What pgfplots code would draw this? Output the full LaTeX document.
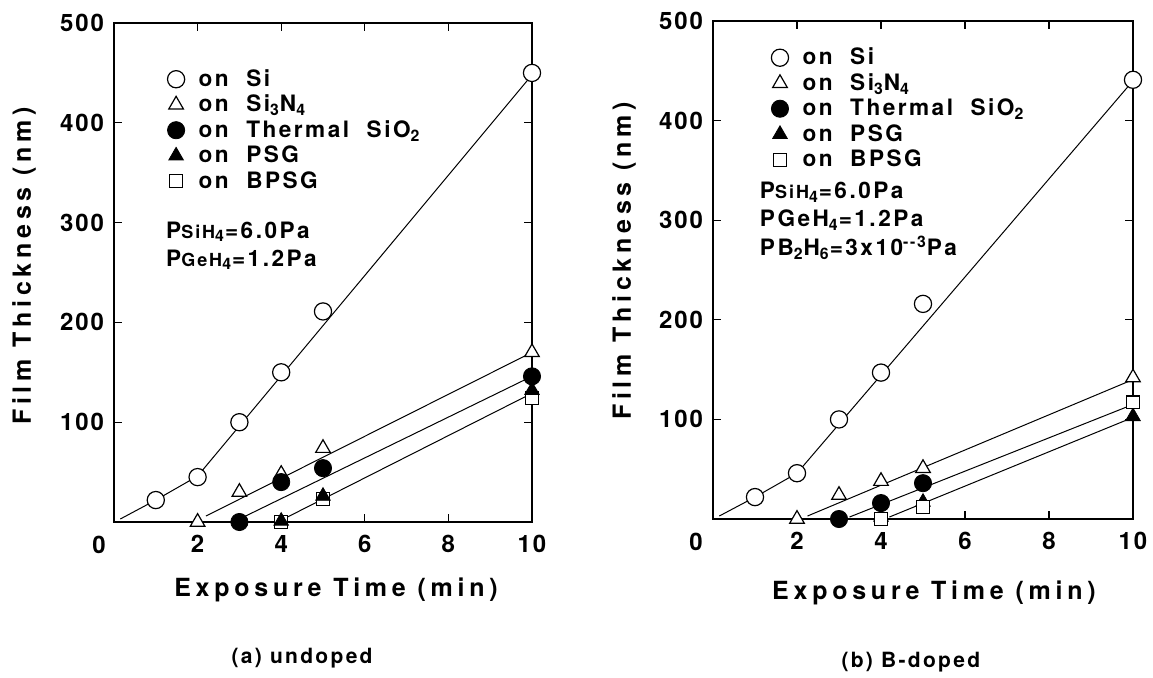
\documentclass[border=0pt]{standalone}
\usepackage{fontspec}
\setmainfont{TeX Gyre Heros}[LetterSpace=8]
\newfontfamily\labfont{TeX Gyre Heros}[LetterSpace=19]
\newfontfamily\legfont{TeX Gyre Heros}[LetterSpace=11]
\usepackage{pgfplots}
\pgfplotsset{compat=1.18}

\pgfplotstableread{
x y
1 22
2 45
3 100
4 150
5 211
10 450
}\aSi
\pgfplotstableread{
x y
2 0
3 30
4 48
5 74
10 170
}\aSiN
\pgfplotstableread{
x y
3 0
4 40
5 54
10 146
}\aSiO
\pgfplotstableread{
x y
4 1
5 26
10 132
}\aPSG
\pgfplotstableread{
x y
4 0
5 23
10 124
}\aBPSG

\pgfplotstableread{
x y
1 22
2 46
3 100
4 147
5 216
10 441
}\bSi
\pgfplotstableread{
x y
2 0
3 24
4 38
5 51
10 142
}\bSiN
\pgfplotstableread{
x y
3 0
4 16
5 36
}\bSiO
\pgfplotstableread{
x y
4 2
5 17
10 103
}\bPSG
\pgfplotstableread{
x y
4 0
5 12
10 117
}\bBPSG

\newcommand{\legsize}{\legfont\fontsize{11.3}{13}\selectfont\bfseries}
\newcommand{\labsize}{\labfont\fontsize{12.5}{14}\selectfont\bfseries}

\pgfplotsset{
  panel/.style={
    scale only axis,
    xmin=0, xmax=10, ymin=0, ymax=500,
    xtick={2,4,6,8,10}, ytick={100,200,300,400,500},
    tick align=inside, major tick length=4pt,
    axis line style={line width=0.7pt},
    every tick/.style={black, line width=0.6pt},
    tick label style={font=\fontsize{12}{14}\selectfont\bfseries},
    /pgf/number format/assume math mode=true,
    label style={font=\labsize},
    xticklabel shift=3pt, yticklabel shift=1.5pt,
    legend style={draw=none, fill=none, inner sep=0pt, outer sep=0pt,
      font=\legsize,
      row sep=2.75pt, column sep=7pt,
      nodes={inner sep=0pt, text height=8pt, text depth=2pt}},
    legend cell align=left,
    legend image code/.code={\draw[#1] plot coordinates {(0pt,0.6pt)};},
  },
  fitline/.style={black, line width=0.5pt, no marks, forget plot},
  oSi/.style={only marks, mark=*, mark size=4.3pt, mark options={fill=white, draw=black, line width=0.6pt}},
  oSiN/.style={only marks, mark=triangle*, mark size=4.2pt, mark options={fill=white, draw=black, line width=0.6pt}},
  oSiO/.style={only marks, mark=*, mark size=4.3pt, mark options={fill=black, draw=black}},
  oPSG/.style={only marks, mark=triangle*, mark size=4.2pt, mark options={fill=black, draw=black}},
  oBPSG/.style={only marks, mark=square*, mark size=3.2pt, mark options={fill=white, draw=black, line width=0.6pt}},
}

\begin{document}
\begin{tikzpicture}
\path[use as bounding box] (0pt,0pt) rectangle (576.5pt,-338.5pt);

% ---------------- (a) undoped ----------------
\begin{axis}[panel, at={(57pt,-261pt)}, anchor=south west,
  width=209pt, height=249.5pt,
  xlabel={Exposure Time (min)}, ylabel={Film Thickness (nm)},
  xlabel style={at={(axis description cs:0.531,-0.136)}, anchor=center},
  ylabel style={at={(axis description cs:-0.215,0.513)}, anchor=center},
  legend style={at={(axis description cs:0.128,0.905)}, anchor=north west},
  clip=false]
\addplot[fitline] coordinates {(0.15,3) (1,22) (2,46) (10,448)};
\addplot[fitline] coordinates {(2.2,6) (10,170)};
\addplot[fitline] coordinates {(3.1,5) (10,146)};
\addplot[fitline] coordinates {(4.15,5) (10,129)};
\addplot[oSi] table {\aSi};
\addlegendentry{on\ \ Si}
\addplot[oSiN] table {\aSiN};
\addlegendentry{on\ \ Si\textsubscript{3}N\textsubscript{4}}
\addplot[oSiO] table {\aSiO};
\addlegendentry{on\ \ Thermal\ \ SiO\textsubscript{2}}
\addplot[oBPSG, forget plot] table {\aBPSG};
\addplot[oPSG] table {\aPSG};
\addlegendentry{on\ \ PSG}
\addlegendimage{oBPSG}
\addlegendentry{on\ \ BPSG}
\node[anchor=base west, font=\legsize] at (axis cs:1.08,284.5)
  {P{\fontsize{9}{10}\selectfont SiH}\textsubscript{4}=6.0Pa};
\node[anchor=base west, font=\legsize] at (axis cs:1.08,256.5)
  {P{\fontsize{9}{10}\selectfont GeH}\textsubscript{4}=1.2Pa};
\node[font=\fontsize{12}{14}\selectfont\bfseries] at (axis cs:0,0) [xshift=-7.5pt, yshift=-11.5pt] {0};
\node[font=\legfont\fontsize{10.5}{12}\selectfont\bfseries] at (axis description cs:0.45,-0.273) {(a)\ undoped};
\end{axis}

% ---------------- (b) B-doped ----------------
\begin{axis}[panel, at={(356.5pt,-259.5pt)}, anchor=south west,
  width=210pt, height=249pt,
  xlabel={Exposure Time (min)}, ylabel={Film Thickness (nm)},
  xlabel style={at={(axis description cs:0.526,-0.149)}, anchor=center},
  ylabel style={at={(axis description cs:-0.212,0.518)}, anchor=center},
  legend style={at={(axis description cs:0.139,0.944)}, anchor=north west},
  clip=false]
\addplot[fitline] coordinates {(0.15,3) (1,22) (2,46) (10,440)};
\addplot[fitline] coordinates {(2.25,3) (10,140)};
\addplot[fitline] coordinates {(3.25,2) (10,115)};
\addplot[fitline] coordinates {(4.2,2) (10,102)};
\addplot[oSi] table {\bSi};
\addlegendentry{on\ \ Si}
\addplot[oSiN] table {\bSiN};
\addlegendentry{on\ \ Si\textsubscript{3}N\textsubscript{4}}
\addplot[oSiO] table {\bSiO};
\addlegendentry{on\ \ Thermal\ \ SiO\textsubscript{2}}
\addplot[oPSG] table {\bPSG};
\addlegendentry{on\ \ PSG}
\addplot[oBPSG] table {\bBPSG};
\addlegendentry{on\ \ BPSG}
\node[anchor=base west, font=\legsize] at (axis cs:0.95,321.5)
  {P{\fontsize{9}{10}\selectfont SiH}\textsubscript{4}=6.0Pa};
\node[anchor=base west, font=\legsize] at (axis cs:0.95,293.5)
  {PGeH\textsubscript{4}=1.2Pa};
\node[anchor=base west, font=\legsize] at (axis cs:0.95,264.5)
  {PB\textsubscript{2}H\textsubscript{6}=3x10\textsuperscript{--3}Pa};
\node[font=\fontsize{12}{14}\selectfont\bfseries] at (axis cs:0,0) [xshift=-8.5pt, yshift=-11.5pt] {0};
\node[font=\legfont\fontsize{10.5}{12}\selectfont\bfseries] at (axis description cs:0.471,-0.287) {(b)\ B-doped};
\end{axis}
\end{tikzpicture}
\end{document}
